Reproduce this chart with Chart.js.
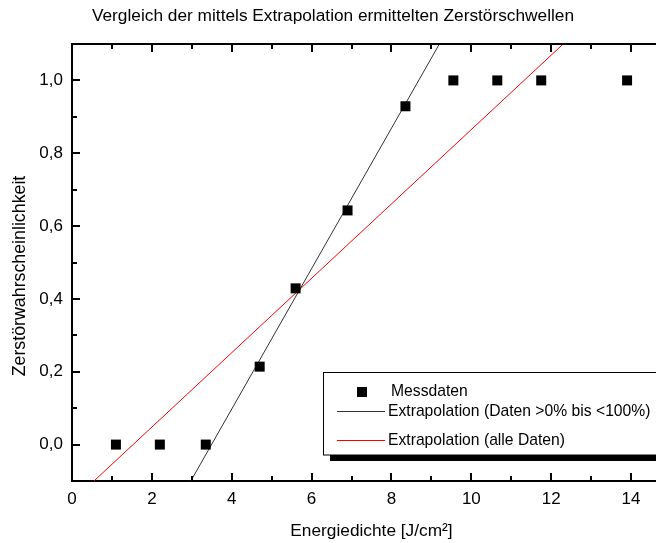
<!DOCTYPE html>
<html>
<head>
<meta charset="utf-8">
<script src="https://cdn.jsdelivr.net/npm/chart.js@4/dist/chart.umd.min.js"></script>
<style>
  html, body { margin: 0; padding: 0; overflow: hidden; background: #fff; }
</style>
</head>
<body>
<canvas id="c" width="680" height="543"></canvas>
<script>
// Messdaten
const energie = [1.1, 2.2, 3.35, 4.7, 5.6, 6.9, 8.35, 9.55, 10.65, 11.75, 13.9]
const wahrsch = [0, 0, 0, 0.214, 0.429, 0.643, 0.929, 1, 1, 1, 1]
const fitTeilX = [2.975, 9.2], fitTeilY = [-0.1, 1.1]
const fitAlleX = [0.55, 12.3], fitAlleY = [-0.1, 1.1]

const titel = "Vergleich der mittels Extrapolation ermittelten Zerstörschwellen"
const xTitel = "Energiedichte [J/cm²]"
const yTitel = "Zerstörwahrscheinlichkeit"
const legendeTexte = ["Messdaten", "Extrapolation (Daten >0% bis <100%)", "Extrapolation (alle Daten)"]

const FONT = '"Liberation Sans", Arial, sans-serif'
Chart.defaults.font.family = FONT
Chart.defaults.color = "#000"

const pts = (xs, ys) => xs.map((x, i) => ({ x, y: ys[i] }))

// Striche nach innen + obere Achse
const achsenPlugin = {
  id: "achsen",
  afterDraw(chart) {
    const { ctx, chartArea: a, scales: { x, y } } = chart
    ctx.save()
    ctx.strokeStyle = "#000"
    ctx.lineWidth = 2
    ctx.beginPath()
    ctx.moveTo(a.left - 1, a.top); ctx.lineTo(a.right + 1, a.top)
    ctx.stroke()
    x.ticks.forEach(t => {
      const px = Math.round(x.getPixelForValue(t.value))
      const len = Math.round(t.value) % 2 === 0 ? 8 : 5
      ctx.beginPath()
      ctx.moveTo(px, a.bottom); ctx.lineTo(px, a.bottom - len)
      ctx.moveTo(px, a.top); ctx.lineTo(px, a.top + len)
      ctx.stroke()
    })
    y.ticks.forEach(t => {
      const py = Math.round(y.getPixelForValue(t.value))
      const len = Math.round(t.value * 10) % 2 === 0 ? 8 : 5
      ctx.beginPath()
      ctx.moveTo(a.left, py); ctx.lineTo(a.left + len, py)
      ctx.stroke()
    })
    ctx.restore()
  }
}

const titelPlugin = {
  id: "titel",
  afterDraw(chart) {
    const ctx = chart.ctx
    ctx.save()
    ctx.fillStyle = "#000"
    ctx.textAlign = "center"
    ctx.textBaseline = "middle"
    ctx.font = "17.3px " + FONT
    ctx.fillText(titel, 333, 16)
    // y-Achsentitel, gedreht
    ctx.translate(20, 276)
    ctx.rotate(-Math.PI / 2)
    ctx.font = "17.8px " + FONT
    ctx.fillText(yTitel, 0, 0)
    ctx.restore()
  }
}

// Legende wie im Original, mit Schatten unten
const legendePlugin = {
  id: "legende",
  afterDatasetsDraw(chart) {
    const ctx = chart.ctx
    const L = 323.5, T = 372.5, R = 700, B = 455
    ctx.save()
    ctx.fillStyle = "#000"
    ctx.fillRect(330, B, R - 330, 6)
    ctx.fillStyle = "#fff"
    ctx.fillRect(L, T, R - L, B - T)
    ctx.strokeStyle = "#000"
    ctx.lineWidth = 1
    ctx.strokeRect(L, T, R - L, B - T)

    ctx.font = "15.7px " + FONT
    ctx.textBaseline = "middle"
    ctx.fillStyle = "#000"
    ctx.fillRect(357, 387, 10, 10)
    ctx.fillText(legendeTexte[0], 391, 392)

    ctx.strokeStyle = "#333"
    ctx.beginPath(); ctx.moveTo(337, 411.5); ctx.lineTo(385, 411.5); ctx.stroke()
    ctx.fillText(legendeTexte[1], 388, 412)

    ctx.strokeStyle = "#ff0000"
    ctx.beginPath(); ctx.moveTo(337, 440.5); ctx.lineTo(385, 440.5); ctx.stroke()
    ctx.fillText(legendeTexte[2], 388, 441)
    ctx.restore()
  }
}

new Chart(document.getElementById("c").getContext("2d"), {
  type: "scatter",
  data: {
    datasets: [
      { type: "line", label: legendeTexte[1], data: pts(fitTeilX, fitTeilY),
        borderColor: "#333", borderWidth: 1, pointRadius: 0, fill: false, order: 2 },
      { type: "line", label: legendeTexte[2], data: pts(fitAlleX, fitAlleY),
        borderColor: "#ff0000", borderWidth: 1, pointRadius: 0, fill: false, order: 2 },
      { type: "scatter", label: legendeTexte[0], data: pts(energie, wahrsch),
        pointStyle: "rect", pointRadius: 7.07, backgroundColor: "#000", borderWidth: 0, order: 1 }
    ]
  },
  options: {
    responsive: false,
    animation: false,
    devicePixelRatio: 1,
    layout: { padding: { top: 44, right: 9, left: 0, bottom: 0 } },
    plugins: { legend: { display: false }, tooltip: { enabled: false } },
    scales: {
      x: {
        type: "linear", min: 0, max: 15,
        grid: { display: false, drawTicks: false },
        border: { display: true, color: "#000", width: 2 },
        ticks: {
          stepSize: 1, padding: 8, font: { size: 17 }, color: "#000", maxRotation: 0,
          callback: v => (Math.round(v) % 2 === 0 ? String(v) : "")
        },
        title: { display: true, text: xTitel, font: { size: 17.3 }, padding: { top: 0, bottom: 1 } },
        afterFit: s => { s.height = 62 }
      },
      y: {
        type: "linear", min: -0.1, max: 1.1,
        grid: { display: false, drawTicks: false },
        border: { display: true, color: "#000", width: 2 },
        ticks: {
          stepSize: 0.1, padding: 9, font: { size: 17 }, color: "#000",
          callback: v => (Math.round(v * 10) % 2 === 0 ? v.toFixed(1).replace(".", ",") : "")
        },
        title: { display: false },
        afterFit: s => { s.width = 72 }
      }
    }
  },
  plugins: [achsenPlugin, titelPlugin, legendePlugin]
})
</script>
</body>
</html>
